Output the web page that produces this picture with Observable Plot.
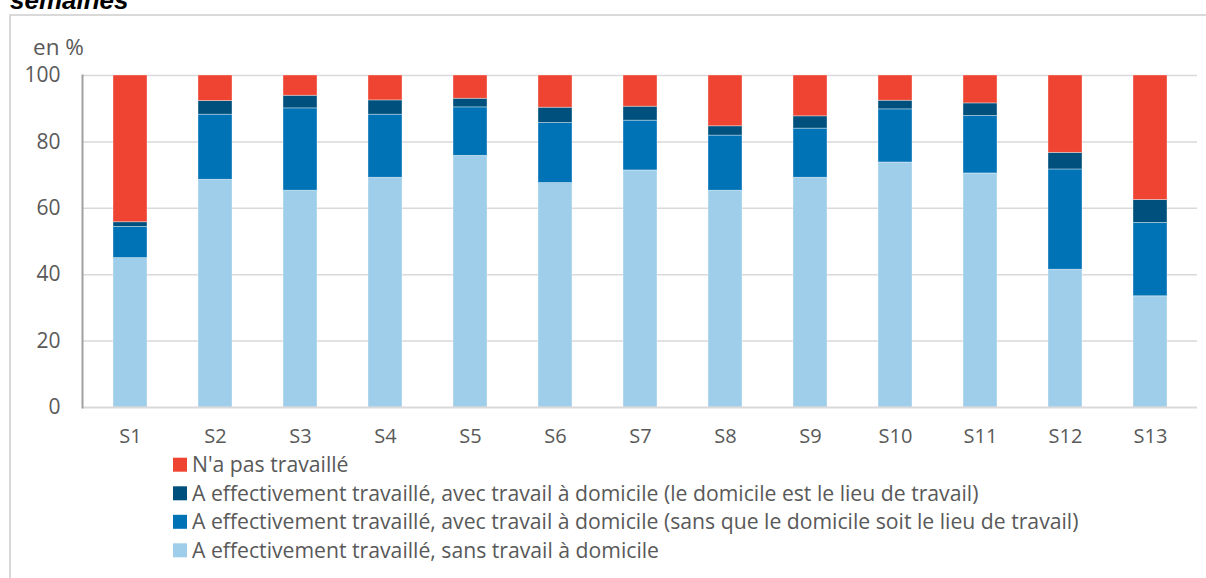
<!DOCTYPE html>
<html>
<head>
<meta charset="utf-8">
<script src="https://cdn.jsdelivr.net/npm/d3@7"></script>
<script src="https://cdn.jsdelivr.net/npm/@observablehq/plot@0.6"></script>
<style>
  html, body { margin: 0; padding: 0; background: #fff; width: 1206px; height: 578px; overflow: hidden; }
  #wrap { position: relative; width: 1206px; height: 578px; overflow: hidden; }
  #frame { position: absolute; left: 9px; top: 14px; width: 1400px; height: 800px; border-top: 2px solid #D9D9D9; border-left: 2px solid #D9D9D9; box-sizing: border-box; }
  #chart { position: absolute; left: 0; top: 0; }
  #overlay { position: absolute; left: 0; top: 0; }
</style>
</head>
<body>
<div id="wrap">
  <div id="frame"></div>
  <div id="chart"></div>
  <svg id="overlay" width="1206" height="578"></svg>
</div>
<script>
// ---- Data ----
const weeks = ["S1","S2","S3","S4","S5","S6","S7","S8","S9","S10","S11","S12","S13"];
// A effectivement travaillé, sans travail à domicile (light blue, bottom)
const sansTravailDomicile = [45.0, 68.6, 65.3, 69.2, 75.8, 67.6, 71.4, 65.3, 69.2, 73.8, 70.5, 41.5, 33.5];
// A effectivement travaillé, avec travail à domicile (sans que le domicile soit le lieu de travail)
const domicileSansLieu    = [ 9.4, 19.6, 24.8, 19.0, 14.6, 18.1, 15.0, 16.6, 14.8, 16.0, 17.3, 30.2, 22.1];
// A effectivement travaillé, avec travail à domicile (le domicile est le lieu de travail)
const domicileLieu        = [ 1.4,  4.1,  3.8,  4.3,  2.6,  4.6,  4.2,  2.8,  3.7,  2.6,  3.8,  5.0,  6.9];
// N'a pas travaillé (red, top)
const nonTravail          = [44.2,  7.7,  6.1,  7.5,  7.0,  9.7,  9.4, 15.3, 12.3,  7.6,  8.4, 23.3, 37.5];

const seriesLabels = [
  "N'a pas travaillé",
  "A effectivement travaillé, avec travail à domicile (le domicile est le lieu de travail)",
  "A effectivement travaillé, avec travail à domicile (sans que le domicile soit le lieu de travail)",
  "A effectivement travaillé, sans travail à domicile"
];
const seriesColors = ["#EE4431", "#00507D", "#0072B6", "#9ECEE9"];
const yTicks = [0, 20, 40, 60, 80, 100];
const titleText = "semaines";
const unitText = "en %";

// ---- Build table ----
const seriesValues = [nonTravail, domicileLieu, domicileSansLieu, sansTravailDomicile];
const stackOrder = [seriesLabels[3], seriesLabels[2], seriesLabels[1], seriesLabels[0]];
const rows = [];
weeks.forEach((w, i) => {
  [3, 2, 1, 0].forEach(s => rows.push({week: w, series: seriesLabels[s], value: seriesValues[s][i]}));
});

const FONT = "'Open Sans', 'Liberation Sans', Arial, sans-serif";
const TEXT = "#595959";

const plot = Plot.plot({
  width: 1206,
  height: 450,
  marginLeft: 82,
  marginRight: 9,
  marginTop: 75,
  marginBottom: 43,
  style: {fontFamily: FONT, fontSize: "20px", color: TEXT, background: "transparent", overflow: "visible"},
  x: {domain: weeks, paddingInner: 0.6, paddingOuter: 0.3, label: null},
  y: {domain: [0, 100], ticks: yTicks, label: null},
  color: {domain: seriesLabels, range: seriesColors},
  marks: [
    Plot.ruleY(yTicks.filter(d => d > 0), {stroke: "#D9D9D9", strokeWidth: 1.5}),
    Plot.barY(rows, {x: "week", y: "value", fill: "series", order: stackOrder,
      stroke: "#ffffff", strokeOpacity: 0.45, strokeWidth: 0.8}),
    Plot.ruleY([0], {stroke: "#D9D9D9", strokeWidth: 2}),
    Plot.frame({anchor: "left", stroke: "#A0A0A0", strokeWidth: 2}),
    Plot.axisX({tickSize: 0, tickPadding: 21, label: null, fill: TEXT, fontSize: 20}),
    Plot.axisY({tickSize: 0, tickPadding: 22, ticks: yTicks, label: null, fill: TEXT, fontSize: 21})
  ]
});
document.getElementById("chart").appendChild(plot);

// ---- Overlay: title, unit, legend ----
const svg = d3.select("#overlay");
svg.append("text")
  .attr("x", 10).attr("y", 9)
  .attr("font-family", "'Liberation Sans', Arial, sans-serif")
  .attr("font-weight", "bold").attr("font-style", "italic")
  .attr("font-size", 26).attr("fill", "#000")
  .text(titleText);

svg.append("text")
  .attr("x", 33).attr("y", 55)
  .attr("font-family", FONT).attr("font-size", 22.5).attr("fill", TEXT)
  .text(unitText);

const legendY = [464.7, 493.3, 521.8, 550.3];
const lg = svg.append("g");
seriesLabels.forEach((lab, i) => {
  const g = lg.append("g").attr("transform", `translate(173, ${legendY[i]})`);
  g.append("rect").attr("x", 0).attr("y", -7).attr("width", 14).attr("height", 14).attr("fill", seriesColors[i]);
  g.append("text").attr("x", 19).attr("y", 0).attr("dy", "0.35em")
    .attr("font-family", FONT).attr("font-size", 21.2).attr("fill", TEXT).text(lab);
});
</script>
</body>
</html>
